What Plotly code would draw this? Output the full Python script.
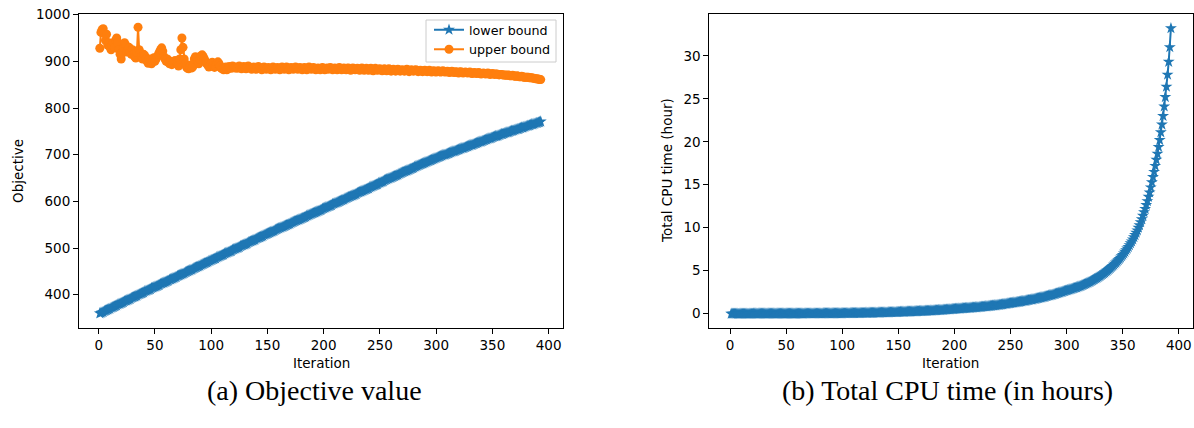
import plotly.graph_objects as go

iterations = list(range(1, 394))

lower_bound = [
    360, 361, 362, 363, 365, 366, 367, 368, 369, 370,
    372, 373, 374, 375, 376, 377, 379, 380, 381, 382,
    383, 384, 386, 387, 388, 389, 390, 391, 393, 394,
    395, 396, 397, 398, 400, 401, 402, 403, 404, 405,
    407, 408, 409, 410, 411, 412, 414, 415, 416, 417,
    418, 419, 420, 421, 423, 424, 425, 426, 427, 428,
    429, 430, 432, 433, 434, 435, 436, 437, 438, 440,
    441, 442, 443, 444, 445, 446, 448, 449, 450, 451,
    452, 453, 454, 456, 457, 458, 459, 460, 461, 462,
    464, 465, 466, 467, 468, 469, 470, 472, 473, 474,
    475, 476, 477, 478, 480, 481, 482, 483, 484, 485,
    486, 488, 489, 490, 491, 492, 493, 494, 496, 497,
    498, 499, 500, 501, 502, 504, 505, 506, 507, 508,
    509, 510, 512, 513, 514, 515, 516, 517, 518, 520,
    521, 522, 523, 524, 525, 526, 528, 529, 530, 531,
    532, 533, 534, 535, 536, 537, 539, 540, 541, 542,
    543, 544, 545, 546, 547, 548, 549, 550, 551, 552,
    554, 555, 556, 557, 558, 559, 560, 561, 562, 563,
    564, 565, 566, 567, 569, 570, 571, 572, 573, 574,
    575, 576, 577, 578, 579, 580, 581, 582, 584, 585,
    586, 587, 588, 589, 590, 591, 592, 594, 595, 596,
    597, 598, 599, 600, 601, 602, 603, 604, 606, 607,
    608, 609, 610, 611, 612, 613, 614, 615, 616, 618,
    619, 620, 621, 622, 623, 624, 625, 626, 627, 628,
    630, 631, 632, 633, 634, 635, 636, 637, 639, 640,
    641, 642, 643, 645, 646, 647, 648, 649, 650, 651,
    652, 653, 654, 655, 656, 657, 659, 660, 661, 662,
    663, 664, 665, 666, 667, 668, 669, 670, 671, 672,
    674, 675, 676, 677, 678, 679, 680, 681, 682, 683,
    684, 685, 686, 687, 688, 689, 690, 691, 692, 693,
    694, 695, 696, 697, 698, 699, 700, 700, 701, 702,
    703, 704, 705, 706, 707, 707, 708, 709, 710, 711,
    712, 713, 714, 714, 715, 716, 717, 718, 719, 720,
    721, 721, 722, 723, 724, 725, 726, 727, 728, 728,
    729, 730, 731, 732, 733, 734, 735, 735, 736, 737,
    738, 739, 740, 740, 741, 742, 743, 744, 744, 745,
    746, 747, 748, 748, 749, 750, 751, 751, 752, 753,
    754, 755, 755, 756, 757, 758, 758, 759, 760, 761,
    762, 762, 763, 764, 765, 765, 766, 767, 768, 768,
    769, 770, 771,
]

upper_bound = [
    928, 962, 968, 970, 960, 945, 958, 935, 940, 930,
    925, 935, 940, 930, 945, 950, 940, 925, 915, 905,
    918, 930, 940, 935, 920, 925, 930, 922, 915, 925,
    915, 910, 907, 920, 973, 925, 918, 910, 905, 915,
    912, 905, 900, 896, 905, 900, 895, 902, 908, 900,
    905, 910, 915, 920, 925, 929, 922, 910, 905, 900,
    905, 898, 895, 900, 893, 895, 900, 902, 898, 895,
    890, 905, 925, 950, 930, 905, 895, 888, 885, 884,
    888, 892, 886, 890, 905, 910, 908, 900, 895, 905,
    912, 914, 910, 905, 900, 895, 892, 888, 890, 895,
    898, 890, 887, 889, 896, 899, 895, 890, 885, 884,
    882, 884, 888, 882, 884, 889, 887, 885, 890, 887,
    886, 888, 885, 887, 890, 886, 884, 887, 889, 886,
    884, 888, 890, 887, 885, 883, 886, 888, 885, 883,
    887, 889, 886, 884, 882, 885, 888, 886, 883, 885,
    887, 884, 882, 885, 888, 886, 883, 885, 887, 884,
    882, 886, 888, 885, 883, 886, 888, 885, 882, 884,
    887, 885, 883, 886, 888, 885, 883, 885, 887, 884,
    882, 885, 887, 884, 882, 885, 888, 885, 883, 885,
    887, 884, 882, 884, 886, 884, 882, 885, 887, 884,
    882, 884, 886, 883, 885, 887, 884, 882, 884, 886,
    884, 882, 885, 887, 884, 882, 884, 886, 883, 882,
    885, 886, 883, 881, 884, 886, 884, 882, 883, 885,
    883, 881, 884, 886, 883, 881, 883, 885, 882, 881,
    884, 885, 882, 880, 883, 885, 882, 881, 883, 884,
    882, 880, 882, 884, 881, 880, 882, 884, 881, 879,
    882, 883, 881, 879, 881, 883, 881, 879, 881, 882,
    880, 879, 881, 883, 880, 878, 880, 882, 880, 879,
    881, 882, 880, 878, 880, 881, 879, 878, 880, 881,
    879, 878, 879, 881, 879, 877, 879, 880, 878, 877,
    879, 880, 878, 877, 878, 880, 878, 877, 878, 879,
    877, 876, 878, 879, 877, 876, 877, 878, 876, 875,
    877, 878, 876, 875, 876, 877, 876, 875, 876, 877,
    875, 874, 875, 876, 875, 874, 875, 876, 874, 873,
    874, 875, 874, 873, 874, 875, 873, 872, 873, 874,
    873, 872, 873, 873, 872, 871, 872, 872, 871, 871,
    871, 870, 870, 871, 870, 869, 869, 870, 869, 868,
    868, 869, 868, 867, 867, 868, 867, 866, 866, 866,
    866, 866, 865, 865, 865, 864, 864, 863, 863, 862,
    862, 861, 861,
]

cpu_hours = [
    0.00, 0.00, 0.00, 0.00, 0.00, 0.00, 0.00, 0.00, 0.00, 0.00,
    0.00, 0.00, 0.00, 0.00, 0.00, 0.00, 0.00, 0.00, 0.00, 0.00,
    0.01, 0.01, 0.01, 0.01, 0.01, 0.01, 0.01, 0.01, 0.01, 0.01,
    0.01, 0.01, 0.01, 0.01, 0.01, 0.01, 0.01, 0.01, 0.01, 0.01,
    0.01, 0.01, 0.01, 0.01, 0.01, 0.02, 0.02, 0.02, 0.02, 0.02,
    0.02, 0.02, 0.02, 0.02, 0.02, 0.02, 0.02, 0.02, 0.02, 0.02,
    0.02, 0.02, 0.02, 0.02, 0.02, 0.03, 0.03, 0.03, 0.03, 0.03,
    0.03, 0.03, 0.03, 0.03, 0.03, 0.03, 0.03, 0.03, 0.03, 0.03,
    0.03, 0.03, 0.04, 0.04, 0.04, 0.04, 0.04, 0.04, 0.04, 0.04,
    0.04, 0.04, 0.04, 0.04, 0.04, 0.05, 0.05, 0.05, 0.05, 0.05,
    0.06, 0.06, 0.06, 0.06, 0.06, 0.06, 0.07, 0.07, 0.07, 0.07,
    0.07, 0.08, 0.08, 0.08, 0.08, 0.08, 0.09, 0.09, 0.09, 0.09,
    0.10, 0.10, 0.10, 0.10, 0.11, 0.11, 0.11, 0.11, 0.12, 0.12,
    0.12, 0.13, 0.13, 0.13, 0.14, 0.14, 0.14, 0.15, 0.15, 0.15,
    0.16, 0.16, 0.17, 0.17, 0.17, 0.18, 0.18, 0.19, 0.19, 0.20,
    0.20, 0.21, 0.21, 0.22, 0.22, 0.23, 0.23, 0.24, 0.24, 0.25,
    0.25, 0.26, 0.26, 0.27, 0.27, 0.28, 0.28, 0.29, 0.30, 0.30,
    0.31, 0.31, 0.32, 0.33, 0.33, 0.34, 0.35, 0.35, 0.36, 0.37,
    0.38, 0.38, 0.39, 0.40, 0.41, 0.42, 0.42, 0.43, 0.44, 0.45,
    0.46, 0.47, 0.48, 0.49, 0.50, 0.51, 0.52, 0.53, 0.54, 0.55,
    0.56, 0.57, 0.58, 0.59, 0.60, 0.61, 0.62, 0.63, 0.64, 0.65,
    0.66, 0.67, 0.68, 0.69, 0.70, 0.71, 0.72, 0.73, 0.74, 0.75,
    0.76, 0.77, 0.79, 0.80, 0.81, 0.82, 0.84, 0.85, 0.86, 0.88,
    0.89, 0.91, 0.92, 0.94, 0.95, 0.97, 0.98, 1.00, 1.02, 1.03,
    1.05, 1.07, 1.09, 1.11, 1.13, 1.15, 1.17, 1.19, 1.21, 1.23,
    1.25, 1.27, 1.29, 1.31, 1.33, 1.35, 1.37, 1.39, 1.41, 1.44,
    1.46, 1.48, 1.50, 1.53, 1.55, 1.58, 1.60, 1.63, 1.65, 1.68,
    1.71, 1.73, 1.76, 1.79, 1.82, 1.85, 1.88, 1.91, 1.94, 1.97,
    2.00, 2.03, 2.06, 2.10, 2.13, 2.17, 2.20, 2.24, 2.27, 2.31,
    2.35, 2.39, 2.43, 2.47, 2.51, 2.55, 2.59, 2.63, 2.67, 2.71,
    2.75, 2.79, 2.83, 2.87, 2.91, 2.95, 2.99, 3.03, 3.07, 3.12,
    3.17, 3.22, 3.27, 3.32, 3.37, 3.43, 3.49, 3.55, 3.61, 3.67,
    3.74, 3.81, 3.88, 3.95, 4.02, 4.10, 4.18, 4.26, 4.34, 4.42,
    4.51, 4.60, 4.69, 4.79, 4.89, 4.99, 5.10, 5.21, 5.32, 5.44,
    5.56, 5.69, 5.82, 5.95, 6.09, 6.23, 6.38, 6.53, 6.69, 6.85,
    7.02, 7.20, 7.39, 7.58, 7.78, 7.98, 8.20, 8.42, 8.65, 8.90,
    9.15, 9.42, 9.70, 10.00, 10.30, 10.65, 11.00, 11.40, 11.80, 12.20,
    12.65, 13.10, 13.60, 14.10, 14.70, 15.30, 15.90, 16.50, 17.20, 17.90,
    18.60, 19.40, 20.20, 21.10, 22.00, 23.00, 24.10, 25.20, 26.40, 27.80,
    29.30, 31.00, 33.20,
]

x_ticks = [0, 50, 100, 150, 200, 250, 300, 350, 400]
obj_ticks = [400, 500, 600, 700, 800, 900, 1000]
cpu_ticks = [0, 5, 10, 15, 20, 25, 30]

BLUE = "#1f77b4"
ORANGE = "#ff7f0e"
FONT = "DejaVu Sans"
W, H = 1194, 428
ML, MR, MT, MB = 0, 0, 14, 100
PH = H - MT - MB


def px(x):
    return x / W


def py(y):
    return (H - MB - y) / PH


fig = go.Figure()
fig.add_trace(go.Scatter(
    x=iterations, y=lower_bound, name="lower bound", mode="lines+markers",
    line=dict(color=BLUE, width=2),
    marker=dict(symbol="star", size=9, color=BLUE, line=dict(width=0)),
    xaxis="x", yaxis="y",
))
fig.add_trace(go.Scatter(
    x=iterations, y=upper_bound, name="upper bound", mode="lines+markers",
    line=dict(color=ORANGE, width=2),
    marker=dict(symbol="circle", size=9, color=ORANGE, line=dict(width=0)),
    xaxis="x", yaxis="y",
))
fig.add_trace(go.Scatter(
    x=iterations, y=cpu_hours, name="cpu", mode="lines+markers",
    line=dict(color=BLUE, width=2),
    marker=dict(symbol="star", size=9, color=BLUE, line=dict(width=0)),
    xaxis="x2", yaxis="y2", showlegend=False,
))

axis_common = dict(
    showline=True, mirror=True, linecolor="black", linewidth=1,
    ticks="outside", ticklen=5, tickwidth=1, tickcolor="black",
    showgrid=False, zeroline=False, automargin=False,
    tickfont=dict(family=FONT, size=13.5, color="black"),
)

fig.update_layout(
    width=W, height=H,
    margin=dict(l=ML, r=MR, t=MT, b=MB),
    paper_bgcolor="white", plot_bgcolor="white",
    font=dict(family=FONT, color="black"),
    xaxis=dict(domain=[px(79), px(563)], range=[-17.5, 412.8],
               tickvals=x_ticks, anchor="y", **axis_common),
    yaxis=dict(domain=[0, 1], range=[328.6, 1001.5],
               tickvals=obj_ticks, anchor="x", **axis_common),
    xaxis2=dict(domain=[px(709.3), px(1192.7)], range=[-18.5, 412.4],
                tickvals=x_ticks, anchor="y2", **axis_common),
    yaxis2=dict(domain=[0, 1], range=[-1.66, 34.86],
                tickvals=cpu_ticks, anchor="x2", **axis_common),
    legend=dict(
        x=px(556), xanchor="right", y=py(15), yanchor="top",
        bgcolor="rgba(0,0,0,0)", borderwidth=0,
        font=dict(family=FONT, size=12.7, color="black"),
        tracegroupgap=0, itemwidth=30,
    ),
    showlegend=True,
    shapes=[dict(type="rect", xref="paper", yref="paper",
                 x0=px(426), x1=px(556), y0=py(62), y1=py(20),
                 fillcolor="white", line=dict(color="#cccccc", width=1),
                 layer="above")],
)


def ann(text, x, y, size, family=FONT, angle=0):
    return dict(text=text, x=px(x), y=py(y), xref="paper", yref="paper",
                xanchor="center", yanchor="middle", showarrow=False,
                textangle=angle,
                font=dict(family=family, size=size, color="black"))


annotations = [
    ann("Iteration", 321, 363, 13.5),
    ann("Iteration", 951, 363, 13.5),
    ann("Objective", 18, 171, 13.5, angle=-90),
    ann("Total CPU time (hour)", 667, 171, 13.5, angle=-90),
    ann("(a) Objective value", 314, 390, 28, family="Liberation Serif"),
    ann("(b) Total CPU time (in hours)", 947, 390, 28, family="Liberation Serif"),
]
fig.update_layout(annotations=annotations)

fig.write_html("out.html")
